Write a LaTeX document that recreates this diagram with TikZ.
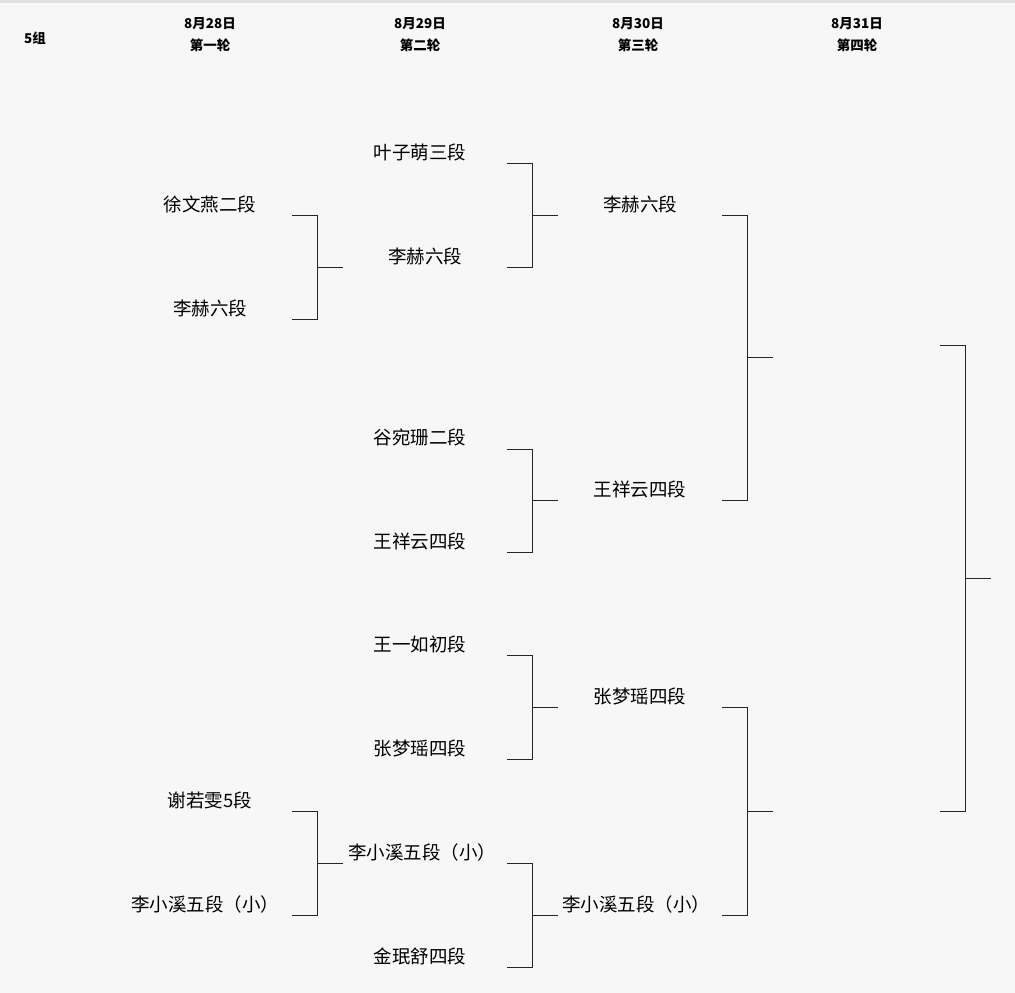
\documentclass[tikz,border=0pt]{standalone}
\usepackage{fontspec}
\setmainfont{Noto Sans CJK SC}
\definecolor{pagebg}{RGB}{247, 247, 247}
\definecolor{bandgray}{RGB}{225, 225, 225}
\usetikzlibrary{positioning}

% bracket: left end x, top y, bottom y (pixels)
\newcommand{\bracketpair}[3]{%
  \draw[bline] (#1,#2) -- ++(25,0) |- (#1,#3);
  \draw[bline] (#1+25,{(#2+#3)/2}) -- ++(26,0);
}

\begin{document}
\begin{tikzpicture}[
    x=1pt, y=-1pt,
    player/.style={inner sep=0pt, font=\fontsize{18.5}{20}\selectfont},
    header/.style={inner sep=0pt, align=center, font=\fontsize{13.5}{22}\selectfont\bfseries},
    bline/.style={draw=black!85, line width=0.9pt}
]
    \fill[pagebg] (0,0) rectangle (1015,993);
    \fill[bandgray] (0,0) rectangle (1015,3);
    \useasboundingbox (0,0) rectangle (1015,993);

    \node[header] (group) at (35,38) {5组};
    \node[header] (d1) at (210,35) {8月28日\\第一轮};
    \node[header] (d2) at (420,35) {8月29日\\第二轮};
    \node[header] (d3) at (638,35) {8月30日\\第三轮};
    \node[header] (d4) at (857,35) {8月31日\\第四轮};

    % first round
    \node[player] (ra) at (210,204) {徐文燕二段};
    \node[player] (rb) at (210,308) {李赫六段};
    \node[player] (rc) at (210,800) {谢若雯5段};
    \node[player] (rd) at (205,904) {李小溪五段（小）};

    % second round
    \node[player] (sa) at (420,152) {叶子萌三段};
    \node[player] (sb) at (425,256) {李赫六段};
    \node[player] (sc) at (420,437) {谷宛珊二段};
    \node[player] (sd) at (420,541) {王祥云四段};
    \node[player] (se) at (420,644) {王一如初段};
    \node[player] (sf) at (420,748) {张梦瑶四段};
    \node[player] (sg) at (422,852) {李小溪五段（小）};
    \node[player] (sh) at (420,956) {金珉舒四段};

    % third round
    \node[player] (ta) at (640,204) {李赫六段};
    \node[player] (tb) at (640,489) {王祥云四段};
    \node[player] (tc) at (640,696) {张梦瑶四段};
    \node[player] (td) at (636,904) {李小溪五段（小）};

    \bracketpair{292}{215}{319}
    \bracketpair{292}{811}{915}
    \bracketpair{507}{163}{267}
    \bracketpair{507}{449}{552}
    \bracketpair{507}{655}{759}
    \bracketpair{507}{863}{967}
    \bracketpair{722}{215}{500}
    \bracketpair{722}{707}{915}
    \bracketpair{940}{345}{811}
\end{tikzpicture}
\end{document}
